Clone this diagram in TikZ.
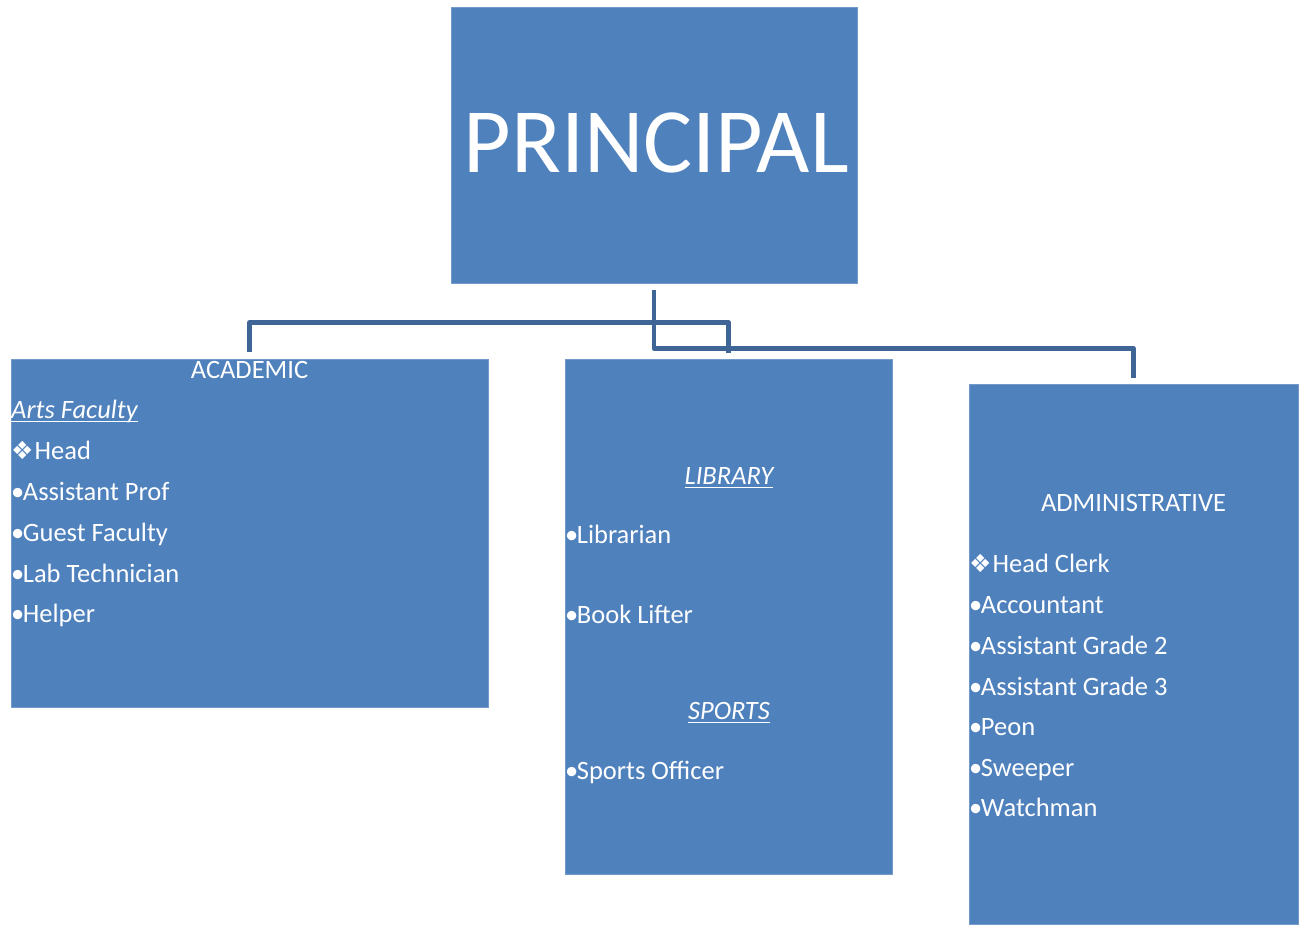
\documentclass[tikz,border=0pt]{standalone}
\usepackage{fontspec}
\setmainfont{Carlito}
\newfontfamily\dejavu{DejaVu Sans}
\definecolor{boxblue}{RGB}{79,129,189}
\definecolor{lineblue}{RGB}{63,100,150}
\newcommand\myul[1]{\setbox0\hbox{#1}\rlap{\rule[-4pt]{\wd0}{1.3pt}}\box0}
\newcommand\diam{{\dejavu\fontsize{25}{28}\selectfont ❖}\kern1pt}
\newcommand\bul{•\kern-1.5pt}
\tikzset{
  orgbox/.style={fill=boxblue, draw=boxblue!80!white, line width=0.6pt, inner sep=0pt, anchor=center},
  conn/.style={draw=lineblue, line width=4.5pt, line join=round},
  item/.style={text=white, inner sep=0pt, anchor=base west, font=\fontsize{26.5}{30}\selectfont},
  head/.style={text=white, inner sep=0pt, anchor=base, font=\fontsize{26.5}{30}\selectfont}
}
\begin{document}
\begin{tikzpicture}[x=1pt,y=-1pt]
\useasboundingbox (0,0) rectangle (1303,924);
% boxes
\node[orgbox, minimum width=406pt, minimum height=276pt] (principal) at (654,145) {};
\node[orgbox, minimum width=477pt, minimum height=348pt] (academic) at (249.5,533) {};
\node[orgbox, minimum width=327pt, minimum height=515pt] (library) at (728.5,616.5) {};
\node[orgbox, minimum width=329pt, minimum height=540pt] (admin) at (1133.5,654) {};
% principal text
\node[text=white, inner sep=0pt, anchor=base, font=\fontsize{92}{100}\selectfont] (ptext) at (656,172) {PRINCIPAL};
% connectors
\coordinate (p0) at ([yshift=-7pt]principal.south);
\coordinate (a1) at ([yshift=7pt]academic.north);
\coordinate (l1) at ([yshift=6pt]library.north);
\coordinate (d1) at ([yshift=6pt]admin.north);
\draw[conn] (p0) -- ++(0,32) -| (a1);
\draw[conn] (p0) -- ++(0,32) -| (l1);
\draw[conn] (p0) -- ++(0,58) -| (d1);
% academic
\node[head] (acad) at (249.5,378) {ACADEMIC};
\node[item] (arts) at (11,418) {\myul{\itshape Arts Faculty}};
\node[item] (a2) at (11,459) {\diam Head};
\node[item] (a3) at (11,500) {\bul Assistant Prof};
\node[item] (a4) at (11,541) {\bul Guest Faculty};
\node[item] (a5) at (11,582) {\bul Lab Technician};
\node[item] (a6) at (11,622) {\bul Helper};
% library / sports
\node[head] (lib) at (729,484) {\myul{\itshape LIBRARY}};
\node[item] (l2) at (565,543) {\bul Librarian};
\node[item] (l3) at (565,623) {\bul Book Lifter};
\node[head] (sp) at (729,719) {\myul{\itshape SPORTS}};
\node[item] (l4) at (565,779) {\bul Sports Officer};
% administrative
\node[head] (adm) at (1133.5,511) {ADMINISTRATIVE};
\node[item] (d2) at (969,572) {\diam Head Clerk};
\node[item] (d3) at (969,613) {\bul Accountant};
\node[item] (d4) at (969,654) {\bul Assistant Grade 2};
\node[item] (d5) at (969,695) {\bul Assistant Grade 3};
\node[item] (d6) at (969,735) {\bul Peon};
\node[item] (d7) at (969,776) {\bul Sweeper};
\node[item] (d8) at (969,816) {\bul Watchman};
\end{tikzpicture}
\end{document}
